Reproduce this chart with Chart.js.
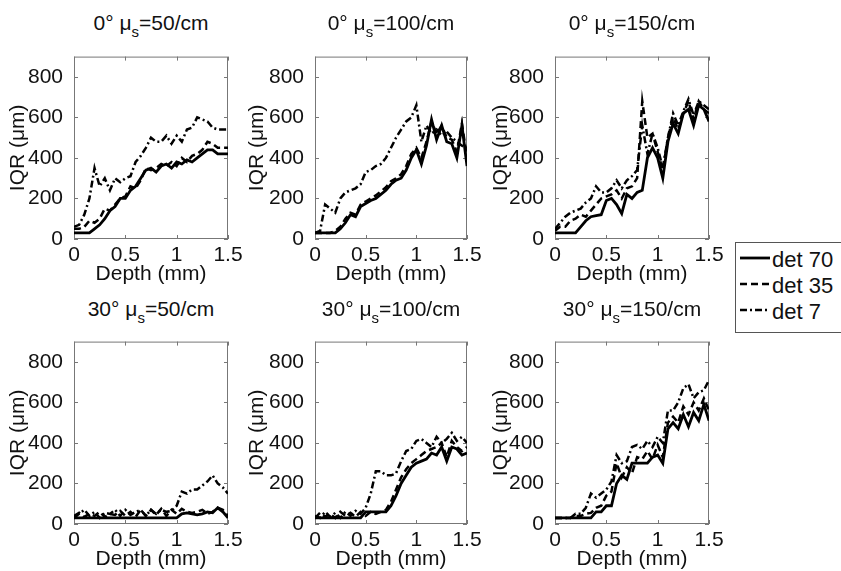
<!DOCTYPE html>
<html>
<head>
<meta charset="utf-8">
<script src="https://cdn.jsdelivr.net/npm/chart.js@4"></script>
<style>
  body { margin: 0; width: 841px; height: 571px; overflow: hidden; position: relative; background: #fff;
         font-family: "Liberation Sans", Arial, sans-serif; color: #111; }
  canvas { position: absolute; }
  .ttl { position: absolute; width: 220px; text-align: center; font-size: 21px; line-height: 21px; white-space: nowrap; }
  .ttl sub { font-size: 15px; line-height: 0; vertical-align: -7px; }
  #legend { position: absolute; left: 735px; top: 242px; width: 106px; height: 91px; box-sizing: border-box;
            border: 1px solid #555; border-right: none; padding-top: 4px; overflow: hidden; }
  .row { display: flex; align-items: flex-start; height: 26px; font-size: 22px; line-height: 26px; white-space: nowrap; }
  .row svg { margin-left: 4px; margin-right: 2px; flex: none; }
</style>
</head>
<body>
<div id="legend"></div>

<script>
// depth axis (mm), shared by every curve
const depth = [0, 0.05, 0.1, 0.15, 0.2, 0.25, 0.3, 0.35, 0.4, 0.45, 0.5, 0.55, 0.6, 0.65, 0.7, 0.75,
               0.8, 0.85, 0.9, 0.95, 1, 1.05, 1.1, 1.15, 1.2, 1.25, 1.3, 1.35, 1.4, 1.45, 1.5];

const angles = ['0°', '0°', '0°', '30°', '30°', '30°'];
const mus = [50, 100, 150, 50, 100, 150];
const seriesNames = ['det 70', 'det 35', 'det 7'];
const xTicks = [0, 0.5, 1, 1.5];
const yTicks = [0, 200, 400, 600, 800];

// IQR (um) -- 0 deg
const a0_50_det70  = [30,30,30,30,50,70,100,140,160,200,200,240,260,300,340,350,330,360,370,350,380,370,390,380,400,420,440,440,420,420,420];
const a0_50_det35  = [50,50,60,90,80,100,150,140,170,200,210,260,250,290,350,340,350,370,360,380,360,400,380,410,420,440,480,470,450,450,450];
const a0_50_det7   = [60,70,120,200,350,260,300,240,300,280,300,310,380,410,450,500,480,480,510,470,510,480,540,550,600,590,580,550,540,540,540];

const a0_100_det70 = [30,30,30,30,30,50,80,120,110,160,175,190,200,220,240,270,290,300,340,400,440,370,460,590,490,560,480,470,400,560,360];
const a0_100_det35 = [30,30,30,30,40,60,100,130,120,170,185,200,215,235,255,285,300,320,360,420,450,400,480,580,520,560,500,490,430,570,400];
const a0_100_det7  = [30,40,170,150,130,200,230,240,250,270,330,340,360,370,400,450,500,540,580,600,660,480,560,520,540,510,530,500,480,460,450];

const a0_150_det70 = [30,30,30,30,30,60,90,110,115,120,190,200,170,125,220,200,230,240,400,450,400,300,480,570,520,620,640,560,660,640,580];
const a0_150_det35 = [40,60,60,90,100,120,110,140,170,200,210,220,240,200,250,260,300,680,500,520,430,340,500,600,540,620,680,590,680,640,620];
const a0_150_det7  = [50,80,110,130,140,150,180,200,260,230,230,250,290,250,290,310,340,560,420,520,450,350,500,620,560,630,690,610,680,660,640];

// IQR (um) -- 30 deg
const a30_50_det70  = [30,30,30,30,30,30,30,30,30,30,30,30,30,30,30,30,30,30,30,30,30,50,55,50,45,50,60,55,80,60,30];
const a30_50_det35  = [40,55,35,50,40,60,35,50,45,65,40,60,35,70,40,70,45,75,40,70,50,75,60,55,60,70,50,60,80,70,40];
const a30_50_det7   = [30,50,70,40,60,30,55,50,70,40,70,45,60,70,40,70,50,70,60,65,90,160,150,170,170,190,210,240,200,180,150];

const a30_100_det70 = [30,30,30,30,30,30,30,30,30,30,60,60,60,60,60,90,140,200,240,280,300,310,320,350,340,380,310,380,370,340,350];
const a30_100_det35 = [30,55,35,50,30,60,40,55,35,60,40,60,50,60,70,110,170,230,270,300,320,340,360,370,380,400,330,410,380,360,380];
const a30_100_det7  = [40,30,60,35,55,30,60,40,65,50,80,150,260,260,240,240,250,310,360,370,410,420,400,380,430,400,420,450,410,430,400];

const a30_150_det70 = [30,30,30,30,30,30,30,30,60,60,90,90,200,240,220,300,300,300,300,330,340,300,470,500,470,540,480,550,510,590,510];
const a30_150_det35 = [30,30,30,30,40,40,50,55,80,90,140,160,300,230,280,250,330,320,360,320,390,330,500,530,500,580,540,600,560,620,560];
const a30_150_det7  = [30,30,30,30,50,50,80,150,130,150,170,210,340,300,310,380,390,370,410,380,430,400,560,560,600,670,690,620,650,660,710];

const panels = [
  [a0_50_det70, a0_50_det35, a0_50_det7],
  [a0_100_det70, a0_100_det35, a0_100_det7],
  [a0_150_det70, a0_150_det35, a0_150_det7],
  [a30_50_det70, a30_50_det35, a30_50_det7],
  [a30_100_det70, a30_100_det35, a30_100_det7],
  [a30_150_det70, a30_150_det35, a30_150_det7]
];

// layout of the 2x3 grid (plot areas in page pixels)
const plotLeft = [74, 315, 555];
const plotWidth = [154, 152, 154];
const plotTop = [53, 338];
const plotHeight = 186;
const yTitlePad = [6, 4, 8];
const titleTop = [12, 298];

const FONT = '"Liberation Sans", Arial, sans-serif';
const dashes = [[], [7, 4], [7, 3, 2, 3]];
const widths = [2.8, 2.5, 2.5];

// matlab style box with inward ticks on all four sides
const boxTicks = {
  id: 'boxTicks',
  beforeDatasetsDraw(chart) {
    const { ctx, chartArea: a, scales: { x, y } } = chart;
    ctx.save();
    ctx.strokeStyle = '#777';
    ctx.lineWidth = 1;
    ctx.strokeRect(a.left + 0.5, a.top + 0.5, a.width - 1, a.height - 1);
    ctx.beginPath();
    x.ticks.forEach(t => {
      const px = Math.round(x.getPixelForValue(t.value)) + 0.5;
      ctx.moveTo(px, a.bottom); ctx.lineTo(px, a.bottom - 4);
      ctx.moveTo(px, a.top); ctx.lineTo(px, a.top + 4);
    });
    y.ticks.forEach(t => {
      const py = Math.round(y.getPixelForValue(t.value)) + 0.5;
      ctx.moveTo(a.left, py); ctx.lineTo(a.left + 4, py);
      ctx.moveTo(a.right, py); ctx.lineTo(a.right - 4, py);
    });
    ctx.stroke();
    ctx.restore();
  }
};

panels.forEach((series, p) => {
  const col = p % 3, row = Math.floor(p / 3);
  const cv = document.createElement('canvas');
  const w = 74 + plotWidth[col] + 20;
  const h = 12 + plotHeight + 54;
  cv.width = w; cv.height = h;
  cv.style.left = (plotLeft[col] - 74) + 'px';
  cv.style.top = (plotTop[row] - 12) + 'px';
  document.body.appendChild(cv);

  const ttl = document.createElement('div');
  ttl.className = 'ttl';
  ttl.style.left = (plotLeft[col] + plotWidth[col] / 2 - 110) + 'px';
  ttl.style.top = titleTop[row] + 'px';
  ttl.innerHTML = angles[p] + ' \u03bc<sub>s</sub>=' + mus[p] + '/cm';
  document.body.appendChild(ttl);

  new Chart(cv, {
    type: 'line',
    data: {
      datasets: series.map((vals, k) => ({
        label: seriesNames[k],
        data: depth.map((d, i) => ({ x: d, y: vals[i] })),
        borderColor: '#000',
        borderWidth: widths[k],
        borderDash: dashes[k],
        pointRadius: 0,
        tension: 0,
        fill: false
      }))
    },
    options: {
      responsive: false,
      animation: false,
      devicePixelRatio: 1,
      layout: { padding: { top: 12, right: 20, left: 0, bottom: 0 } },
      plugins: { legend: { display: false }, tooltip: { enabled: false } },
      scales: {
        x: {
          type: 'linear', min: 0, max: 1.5,
          grid: { display: false }, border: { display: false },
          afterBuildTicks: s => { s.ticks = xTicks.map(v => ({ value: v })); },
          ticks: { padding: -4, color: '#111', font: { family: FONT, size: 21 }, maxRotation: 0, autoSkip: false,
                   callback: v => String(v) },
          title: { display: true, text: 'Depth (mm)', color: '#111', font: { family: FONT, size: 21 },
                   padding: { top: 0, bottom: 6 } },
          afterFit: s => { s.height = 54; }
        },
        y: {
          min: 0, max: 900,
          grid: { display: false }, border: { display: false },
          afterBuildTicks: s => { s.ticks = yTicks.map(v => ({ value: v })); },
          ticks: { padding: 3, color: '#111', font: { family: FONT, size: 21 } },
          title: { display: true, text: 'IQR (\u03bcm)', color: '#111', font: { family: FONT, size: 21 },
                   padding: { top: yTitlePad[col], bottom: 0 } },
          afterFit: s => { s.width = 74; }
        }
      }
    },
    plugins: [boxTicks]
  });
});

// legend
const legend = document.getElementById('legend');
seriesNames.forEach((name, k) => {
  const r = document.createElement('div');
  r.className = 'row';
  const dash = dashes[k].length ? ' stroke-dasharray="' + dashes[k].join(',') + '"' : '';
  r.innerHTML = '<svg width="30" height="26"><line x1="0" y1="11" x2="30" y2="11" stroke="#000" stroke-width="' +
    widths[k] + '"' + dash + '/></svg><span>' + name + '</span>';
  legend.appendChild(r);
});
</script>
</body>
</html>
